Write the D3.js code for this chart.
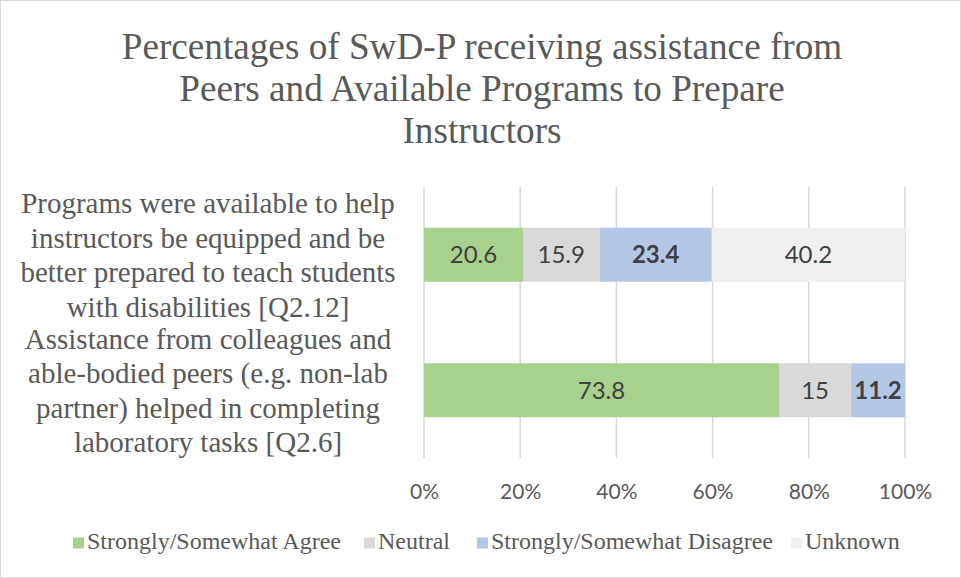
<!DOCTYPE html>
<html><head><meta charset="utf-8">
<script src="https://cdn.jsdelivr.net/npm/d3@7"></script>
<style>body{margin:0;background:#fff}svg{display:block}</style>
</head><body>
<svg id="c" width="961" height="578"></svg>
<script>
const titleLines = ["Percentages of SwD-P receiving assistance from", "Peers and Available Programs to Prepare", "Instructors"];
const categories = ["Q2.12", "Q2.6"];
const categoryLabels = [
  ["Programs were available to help", "instructors be equipped and be", "better prepared to teach students", "with disabilities [Q2.12]"],
  ["Assistance from colleagues and", "able-bodied peers (e.g. non-lab", "partner) helped in completing", "laboratory tasks [Q2.6]"]
];
const seriesNames = ["Strongly/Somewhat Agree", "Neutral", "Strongly/Somewhat Disagree", "Unknown"];
const agree = [20.6, 73.8];
const neutral = [15.9, 15];
const disagree = [23.4, 11.2];
const unknown = [40.2, 0];
const tickValues = [0, 0.2, 0.4, 0.6, 0.8, 1];
const colors = ["#A9D18E", "#D9D9D9", "#B4C7E7", "#F0F0F0"];
const boldSeries = [false, false, true, false];

const svg = d3.select("#c");
const W = 961, H = 578;
const serif = "'Liberation Serif','Times New Roman',serif";
const sans = "Lato,'Open Sans',sans-serif";

svg.append("rect").attr("x",0.5).attr("y",0.5).attr("width",W-1).attr("height",H-1)
  .attr("fill","#fff").attr("stroke","#d9d9d9");

// title
const tt = svg.append("text").attr("font-family",serif).attr("font-size",37.2).attr("fill","#595959").attr("text-anchor","middle");
titleLines.forEach((l,i)=> tt.append("tspan").attr("x",482).attr("y",58.5+i*42.3).text(l));

const table = categories.map((c,i)=>({cat:c, [seriesNames[0]]:agree[i], [seriesNames[1]]:neutral[i], [seriesNames[2]]:disagree[i], [seriesNames[3]]:unknown[i]}));
const stack = d3.stack().keys(seriesNames).offset(d3.stackOffsetExpand)(table);

const x = d3.scaleLinear().domain([0,1]).range([424,905]);
const y = d3.scaleBand().domain(categories).range([187,458]).paddingInner(0.6015).paddingOuter(0.30075);

// gridlines
svg.append("g").selectAll("line").data(tickValues).join("line")
  .attr("x1",d=>x(d)).attr("x2",d=>x(d)).attr("y1",187).attr("y2",458)
  .attr("stroke","#d9d9d9").attr("stroke-width",1.5);

// bars
const gs = svg.append("g").selectAll("g").data(stack).join("g").attr("fill",(d,i)=>colors[i]);
gs.selectAll("rect").data(d=>d).join("rect")
  .attr("x",d=>x(d[0])).attr("width",d=>x(d[1])-x(d[0]))
  .attr("y",d=>y(d.data.cat)).attr("height",y.bandwidth());

// data labels
svg.append("g").selectAll("g").data(stack).join("g").each(function(s,si){
  d3.select(this).selectAll("text").data(s.filter(d=>d.data[s.key]>0)).join("text")
    .attr("x",d=>(x(d[0])+x(d[1]))/2).attr("y",d=>y(d.data.cat)+y.bandwidth()/2)
    .attr("dy","0.36em").attr("text-anchor","middle")
    .attr("font-family",sans).attr("font-size",24)
    .attr("font-weight",boldSeries[si]?"bold":"normal").attr("fill","#404040")
    .text(d=>d.data[s.key]);
});

// x axis
const xa = svg.append("g").attr("transform","translate(0,458)")
  .call(d3.axisBottom(x).tickValues(tickValues).tickFormat(d3.format(".0%")).tickSize(0).tickPadding(26));
xa.select(".domain").remove();
xa.selectAll("text").attr("font-family",sans).attr("font-size",21).attr("fill","#595959");

// category labels
categories.forEach((c,i)=>{
  const lines = categoryLabels[i];
  const cy = y(c)+y.bandwidth()/2;
  const t = svg.append("text").attr("font-family",serif).attr("font-size",29).attr("fill","#595959").attr("text-anchor","middle");
  lines.forEach((l,j)=> t.append("tspan").attr("x",208).attr("y",cy+(j-(lines.length-1)/2)*34.5).attr("dy","0.35em").text(l));
});

// legend
const legX = [73, 364, 477, 791];
const lg = svg.append("g").selectAll("g").data(seriesNames).join("g")
  .attr("transform",(d,i)=>`translate(${legX[i]},548.5)`);
lg.append("rect").attr("x",0).attr("y",-11).attr("width",11).attr("height",11).attr("fill",(d,i)=>colors[i]);
lg.append("text").attr("x",14).attr("font-family",serif).attr("font-size",24).attr("fill","#595959").text(d=>d);
</script>
</body></html>
